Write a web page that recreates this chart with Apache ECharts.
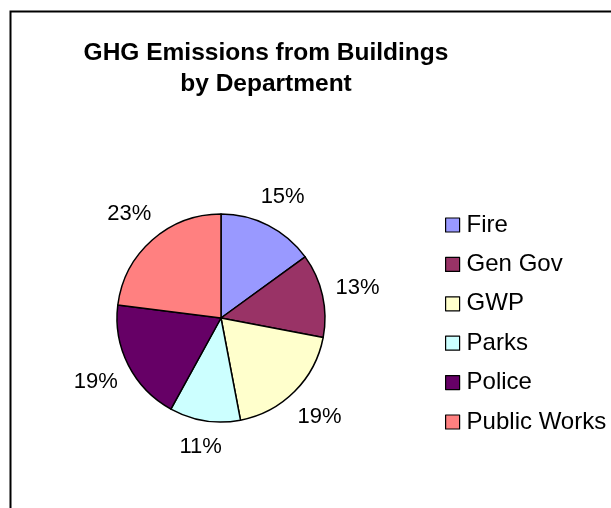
<!DOCTYPE html>
<html><head><meta charset="utf-8">
<script src="https://cdn.jsdelivr.net/npm/echarts@6/dist/echarts.min.js"></script>
<style>html,body{margin:0;padding:0;background:#fff}#c{width:611px;height:508px}</style>
</head><body><div id="c"></div>
<script>
const titleLines = ['GHG Emissions from Buildings', 'by Department'];
const categories = ['Fire', 'Gen Gov', 'GWP', 'Parks', 'Police', 'Public Works'];
const values = [15, 13, 19, 11, 19, 23];
const colors = ['#9999FF', '#993366', '#FFFFCC', '#CCFFFF', '#660066', '#FF8080'];

const PIE_CX = 221, PIE_CY = 318, PIE_R = 104, LABEL_GAP = 12;
const total = values.reduce((a, b) => a + b, 0);
const midAngles = [];
{ let acc = 0; values.forEach(v => { midAngles.push((acc + v / 2) / total * 2 * Math.PI); acc += v; }); }

const chart = echarts.init(document.getElementById('c'), null, {renderer: 'canvas'});
const font = 'Liberation Sans, Arial, sans-serif';
chart.setOption({
  animation: false,
  backgroundColor: '#fff',
  graphic: [{
    type: 'rect', left: 8, top: 9, shape: {width: 700, height: 600},
    style: {fill: 'none', stroke: '#000', lineWidth: 2}, silent: true, z: -1
  }],
  title: {
    text: titleLines.join('\n'),
    left: 261, top: 33, textAlign: 'center',
    textStyle: {fontFamily: font, fontWeight: 'bold', fontSize: 24.5, lineHeight: 31, color: '#000'}
  },
  legend: {
    orient: 'vertical', left: 440, top: 208,
    itemWidth: 14, itemHeight: 14, itemGap: 15.4,
    icon: 'rect',
    itemStyle: {borderColor: '#000', borderWidth: 1.2},
    textStyle: {fontFamily: font, fontSize: 24, color: '#000', padding: [0, 0, 0, 2]},
    data: categories
  },
  series: [{
    type: 'pie',
    center: [PIE_CX, PIE_CY],
    radius: PIE_R,
    startAngle: 90,
    clockwise: true,
    avoidLabelOverlap: false,
    itemStyle: {borderColor: '#000', borderWidth: 1.5},
    label: {
      show: true, position: 'outside',
      formatter: p => Math.round(p.percent) + '%',
      fontFamily: font, fontSize: 22, color: '#000'
    },
    labelLine: {show: false},
    labelLayout: function (params) {
      const a = midAngles[params.dataIndex];
      const ux = Math.sin(a), uy = -Math.cos(a);
      const w = params.labelRect.width, h = params.labelRect.height;
      const d = PIE_R + LABEL_GAP + Math.abs(ux) * w / 2 + Math.abs(uy) * h / 2;
      return {x: PIE_CX + ux * d, y: PIE_CY + uy * d, align: 'center', verticalAlign: 'middle'};
    },
    emphasis: {disabled: true},
    data: categories.map((c, i) => ({name: c, value: values[i], itemStyle: {color: colors[i]}}))
  }]
});
</script></body></html>
